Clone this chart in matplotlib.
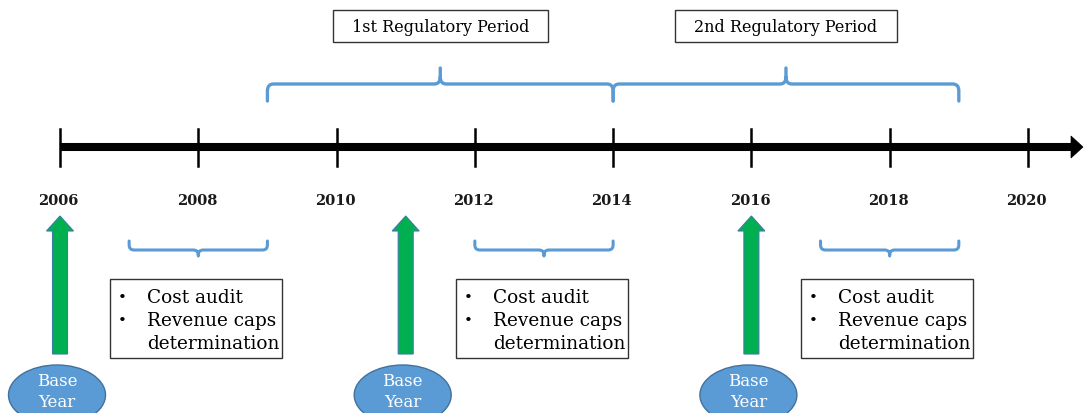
import matplotlib
matplotlib.use("Agg")
import matplotlib.pyplot as plt
from matplotlib.path import Path
from matplotlib.patches import PathPatch, Polygon, Ellipse, Rectangle

# ---------------- data ----------------
years = [2006, 2008, 2010, 2012, 2014, 2016, 2018, 2020]
period_labels = ["1st Regulatory Period", "2nd Regulatory Period"]
period_spans = [(2009, 2014), (2014, 2019)]
base_years = [2006, 2011, 2016]
audit_spans = [(2007, 2009), (2012, 2014), (2017, 2019)]
bullet_lines = ["Cost audit", "Revenue caps", "determination"]
bullet_flags = [True, True, False]
base_label = "Base\nYear"

# ---------------- layout ----------------
W, H = 1084, 414
PX_PER_YEAR = 69.14
X0 = 2006 - 60 / PX_PER_YEAR
X1 = X0 + W / PX_PER_YEAR
BLUE = "#5B9BD5"
GREEN = "#00B050"
SERIF = ["DejaVu Serif", "Liberation Serif"]

def px(n):
    return n / PX_PER_YEAR

fig = plt.figure(figsize=(W / 100, H / 100), dpi=100)
ax = fig.add_axes([0, 0, 1, 1])
ax.set_xlim(X0, X1)
ax.set_ylim(H, 0)
ax.axis("off")

def brace(x0, x1, y_end, y_bar, y_tip, rx, ry, **kw):
    xm = (x0 + x1) / 2
    se = 1 if y_end > y_bar else -1
    st = -se
    verts = [
        (x0, y_end), (x0, y_bar + se * ry),
        (x0, y_bar), (x0 + rx, y_bar),
        (xm - rx, y_bar),
        (xm, y_bar), (xm, y_bar + st * ry),
        (xm, y_tip),
        (xm, y_bar + st * ry),
        (xm, y_bar), (xm + rx, y_bar),
        (x1 - rx, y_bar),
        (x1, y_bar), (x1, y_bar + se * ry),
        (x1, y_end),
    ]
    codes = [Path.MOVETO, Path.LINETO,
             Path.CURVE3, Path.CURVE3,
             Path.LINETO,
             Path.CURVE3, Path.CURVE3,
             Path.LINETO,
             Path.MOVETO,
             Path.CURVE3, Path.CURVE3,
             Path.LINETO,
             Path.CURVE3, Path.CURVE3,
             Path.LINETO]
    ax.add_patch(PathPatch(Path(verts, codes), fill=False, edgecolor=BLUE,
                           capstyle="round", joinstyle="round", **kw))

# timeline
y_line = 148
tip = X1 - px(1)
head_len = px(12)
ax.plot([2006, tip - head_len + px(1)], [y_line, y_line], color="black",
        lw=5.8, solid_capstyle="butt", zorder=3)
ax.add_patch(Polygon([(tip - head_len, y_line - 11), (tip, y_line),
                      (tip - head_len, y_line + 11)], closed=True,
                     facecolor="black", edgecolor="black", lw=0.5, zorder=3))
for yr in years:
    ax.plot([yr, yr], [130, 167], color="black", lw=1.8, zorder=4)
    ax.text(yr - px(1.5), 201, str(yr), ha="center", va="center",
            family=SERIF, fontsize=10.5, fontweight="bold", color="#1a1a1a")

# top braces + period boxes
fig.canvas.draw()
renderer = fig.canvas.get_renderer()
for (a, b), lab in zip(period_spans, period_labels):
    brace(a, b, 102, 85, 69, px(6), 7, lw=2.4)
    t = ax.text((a + b) / 2, 27, lab, ha="center", va="center",
                family=SERIF, fontsize=11.5, color="black")
    bb = t.get_window_extent(renderer)
    wyrs = (bb.width + 38) / PX_PER_YEAR
    ax.add_patch(Rectangle(((a + b) / 2 - wyrs / 2, 10.5), wyrs, 32.5,
                           fill=False, edgecolor="#333333", lw=1.0))

# lower braces
for a, b in audit_spans:
    brace(a, b, 242, 251, 257, px(5), 5, lw=2.2)

# base year arrows, ellipses and bullet boxes
for by in base_years:
    sw, hw = px(7.5), px(13.5)
    arrow = [(by - sw, 355), (by - sw, 232), (by - hw, 232), (by, 217),
             (by + hw, 232), (by + sw, 232), (by + sw, 355)]
    ax.add_patch(Polygon(arrow, closed=True, facecolor=GREEN,
                         edgecolor="#3A7CA5", lw=0.8, zorder=5))
    ax.add_patch(Ellipse((by - px(3), 396), px(97), 60, facecolor=BLUE,
                         edgecolor="#41719C", lw=1.0, zorder=5))
    ax.text(by - px(3), 392, base_label, ha="center", va="center",
            family=SERIF, fontsize=12, color="white", linespacing=1.25,
            zorder=6)
    left = by + px(50)
    ax.add_patch(Rectangle((left, 280), px(172), 79, fill=False,
                           edgecolor="#333333", lw=1.0))
    for i, (line, flag) in enumerate(zip(bullet_lines, bullet_flags)):
        yy = 298 + 23 * i
        if flag:
            ax.text(left + px(12), yy, "\u2022", ha="center", va="center",
                    family=SERIF, fontsize=11, color="black")
        ax.text(left + px(37), yy, line, ha="left", va="center",
                family=SERIF, fontsize=13.3, color="black")

fig.savefig("out.png", dpi=100)
